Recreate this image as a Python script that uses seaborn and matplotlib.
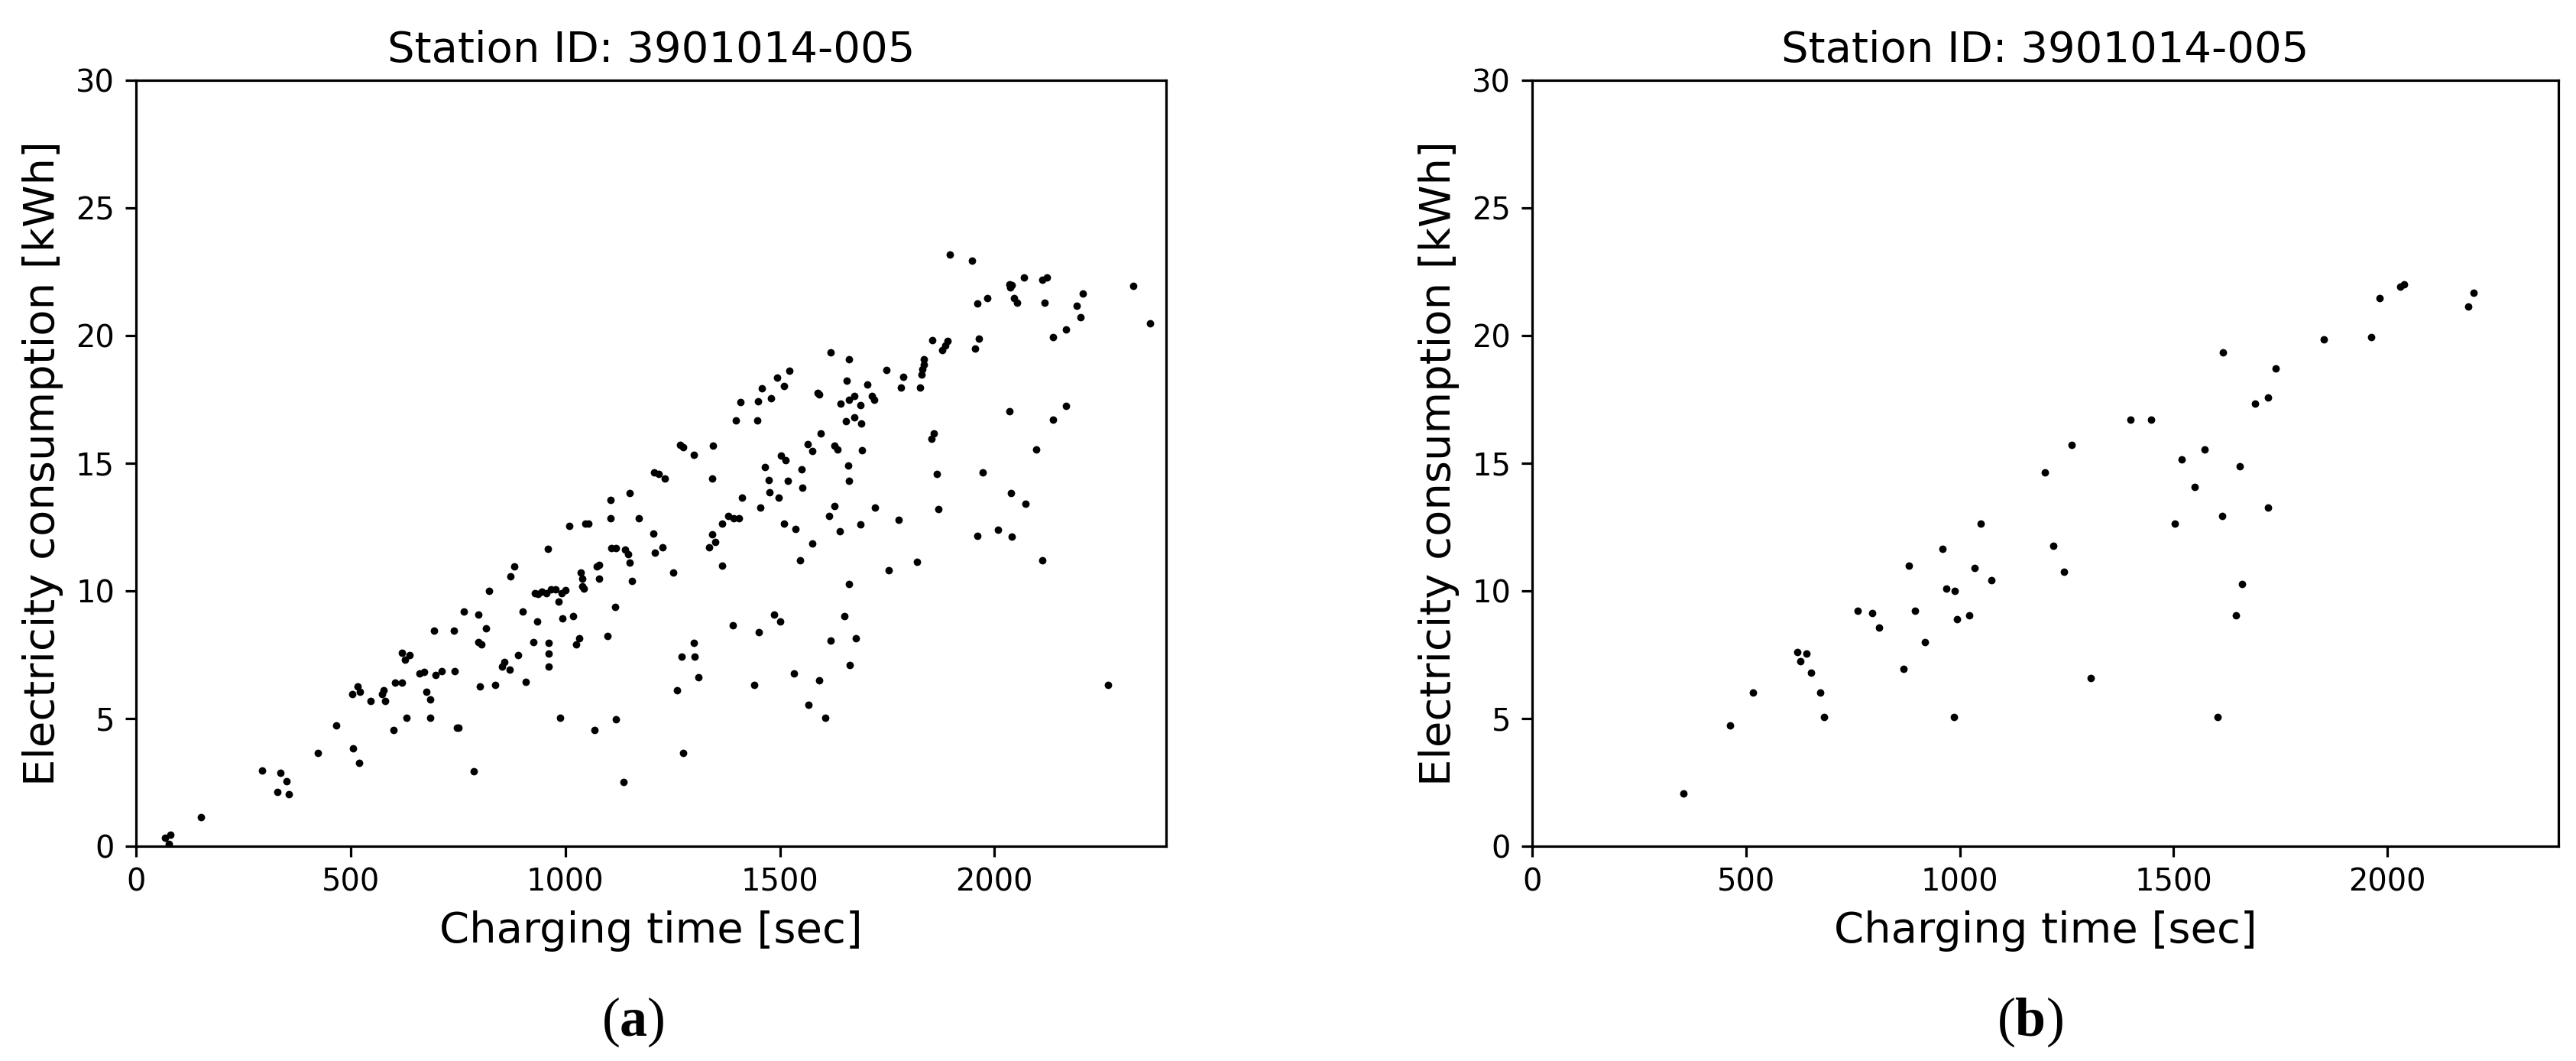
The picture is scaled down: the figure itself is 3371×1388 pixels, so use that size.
import matplotlib
matplotlib.use("Agg")
import matplotlib.pyplot as plt
import seaborn as sns
import pandas as pd

# panel (a): all sessions
time_a = [68, 81, 77, 151, 294, 329, 337, 350, 356, 424, 466, 505, 520, 503, 517, 522, 547,
          574, 580, 576, 600, 604, 619, 619, 627, 638, 631, 661, 671, 677, 685, 685, 694, 698,
          712, 741, 743, 747, 752, 764, 787, 797, 797, 805, 801, 816, 822, 837, 853, 859, 870,
          872, 882, 890, 900, 908, 925, 929, 936, 946, 956, 934, 988, 959, 961, 961, 961, 967,
          977, 985, 992, 1000, 994, 1010, 1019, 1025, 1033, 1037, 1039, 1039, 1044, 1046, 1054,
          1068, 1074, 1079, 1079, 1099, 1106, 1106, 1108, 1118, 1118, 1116, 1135, 1139, 1147,
          1151, 1151, 1155, 1172, 1207, 1217, 1232, 1205, 1208, 1226, 1251, 1261, 1267, 1275,
          1271, 1275, 1300, 1302, 1300, 1311, 1335, 1342, 1344, 1342, 1350, 1366, 1366, 1379,
          1393, 1391, 1398, 1408, 1404, 1412, 1441, 1447, 1449, 1451, 1455, 1458, 1466, 1474,
          1476, 1480, 1487, 1501, 1493, 1497, 1503, 1514, 1518, 1509, 1522, 1509, 1532, 1536,
          1548, 1551, 1553, 1565, 1576, 1567, 1576, 1588, 1592, 1592, 1596, 1605, 1615, 1619,
          1619, 1627, 1634, 1627, 1640, 1642, 1650, 1654, 1656, 1661, 1661, 1660, 1661, 1661,
          1663, 1673, 1673, 1677, 1687, 1687, 1689, 1692, 1704, 1714, 1720, 1722, 1749, 1754,
          1776, 1783, 1787, 1820, 1826, 1830, 1832, 1836, 1836, 1853, 1859, 1855, 1865, 1869,
          1878, 1890, 1886, 1896, 1948, 1954, 1960, 1963, 1960, 1973, 1983, 2008, 2035, 2037,
          2041, 2035, 2039, 2041, 2045, 2052, 2068, 2072, 2097, 2112, 2112, 2122, 2116, 2137,
          2137, 2166, 2166, 2191, 2201, 2205, 2265, 2323, 2362]
energy_a = [0.34, 0.45, 0.08, 1.14, 2.97, 2.12, 2.86, 2.54, 2.04, 3.66, 4.72, 3.82, 3.26, 5.96,
            6.25, 6.04, 5.70, 5.96, 5.70, 6.10, 4.56, 6.41, 6.41, 7.58, 7.29, 7.47, 5.04, 6.76,
            6.81, 6.04, 5.75, 5.04, 8.43, 6.71, 6.84, 8.43, 6.84, 4.64, 4.64, 9.20, 2.94, 9.06,
            8.00, 7.90, 6.25, 8.53, 9.99, 6.33, 7.02, 7.21, 6.92, 10.58, 10.97, 7.47, 9.20, 6.44,
            8.00, 9.91, 9.89, 9.97, 9.91, 8.80, 5.04, 11.64, 7.95, 7.55, 7.02, 10.07, 10.07, 9.59,
            9.91, 10.02, 8.91, 12.54, 9.01, 7.90, 8.14, 10.71, 10.47, 10.18, 10.10, 12.64, 12.64,
            4.56, 10.97, 11.03, 10.47, 8.24, 13.57, 12.83, 11.66, 11.66, 4.96, 9.36, 2.52, 11.61,
            11.45, 13.83, 11.11, 10.39, 12.85, 14.63, 14.58, 14.39, 12.24, 11.48, 11.71, 10.73,
            6.10, 15.72, 15.64, 7.42, 3.66, 7.95, 7.42, 15.32, 6.60, 11.71, 14.39, 15.69, 12.22,
            11.90, 11.00, 12.64, 12.93, 12.85, 8.64, 16.67, 17.39, 12.83, 13.65, 6.33, 16.67,
            17.41, 8.38, 13.25, 17.94, 14.84, 14.34, 13.86, 17.55, 9.06, 8.80, 18.34, 13.65, 15.29,
            15.11, 14.31, 18.02, 18.61, 12.64, 6.76, 12.43, 11.21, 14.76, 14.05, 15.74, 15.48,
            5.54, 11.85, 17.76, 17.70, 6.49, 16.17, 5.04, 12.93, 19.35, 8.06, 15.69, 15.53, 13.33,
            12.32, 17.33, 9.01, 16.64, 18.23, 19.08, 17.49, 14.90, 14.31, 10.26, 7.08, 16.78,
            17.63, 8.14, 12.59, 17.28, 16.56, 15.50, 18.08, 17.63, 17.49, 13.25, 18.66, 10.81,
            12.78, 17.97, 18.37, 11.13, 17.97, 18.47, 18.69, 19.08, 18.87, 15.96, 16.17, 19.83,
            14.58, 13.20, 19.43, 19.80, 19.61, 23.16, 22.93, 19.48, 21.26, 19.88, 12.14, 14.63,
            21.47, 12.38, 22.00, 21.87, 21.97, 17.02, 13.83, 12.11, 21.47, 21.28, 22.26, 13.41,
            15.53, 11.21, 22.18, 22.26, 21.28, 19.93, 16.70, 20.25, 17.23, 21.18, 20.73, 21.63,
            6.31, 21.95, 20.49]

# panel (b)
time_b = [353, 463, 517, 620, 627, 641, 652, 673, 683, 761, 795, 812, 869, 881, 896, 919, 959,
          969, 988, 986, 993, 1022, 1035, 1049, 1073, 1199, 1218, 1243, 1262, 1306, 1399, 1447,
          1502, 1519, 1550, 1573, 1602, 1615, 1613, 1645, 1655, 1660, 1691, 1720, 1720, 1739,
          1851, 1962, 1981, 2030, 2038, 2189, 2202]
energy_b = [2.07, 4.73, 6.03, 7.60, 7.25, 7.55, 6.78, 6.03, 5.05, 9.22, 9.12, 8.56, 6.94, 11.00,
            9.22, 8.00, 11.64, 10.10, 9.99, 5.05, 8.88, 9.04, 10.90, 12.62, 10.42, 14.64, 11.77,
            10.74, 15.71, 6.59, 16.69, 16.69, 12.62, 15.15, 14.08, 15.55, 5.05, 19.35, 12.94,
            9.04, 14.88, 10.26, 17.33, 17.57, 13.26, 18.71, 19.85, 19.93, 21.47, 21.92, 22.00,
            21.15, 21.66]

title = "Station ID: 3901014-005"
panels = [("a", time_a, energy_a), ("b", time_b, energy_b)]

plt.rcParams["mathtext.fontset"] = "custom"
plt.rcParams["mathtext.rm"] = "Liberation Serif"
plt.rcParams["mathtext.bf"] = "Liberation Serif:bold"

fig = plt.figure(figsize=(3371 / 288, 1388 / 288), dpi=288)
boxes = [[0.0528, 0.2025, 0.3999, 0.7219], [0.5948, 0.2025, 0.3984, 0.7219]]
caption_x = [0.2456, 0.788]

for (tag, xs, ys), box, cx in zip(panels, boxes, caption_x):
    ax = fig.add_axes(box)
    df = pd.DataFrame({"time": xs, "energy": ys})
    sns.scatterplot(data=df, x="time", y="energy", ax=ax, color="black", s=6, linewidth=0)
    ax.set_xlim(0, 2400)
    ax.set_ylim(0, 30)
    ax.set_title(title, fontsize=14)
    ax.set_xlabel("Charging time [sec]", fontsize=14)
    ax.set_ylabel("Electricity consumption [kWh]", fontsize=14)
    ax.tick_params(labelsize=10)
    fig.text(cx, 0.037, r"($\mathbf{%s}$)" % tag, ha="center", va="center",
             fontsize=18, family="Liberation Serif")

fig.savefig("out.png", dpi=288)
